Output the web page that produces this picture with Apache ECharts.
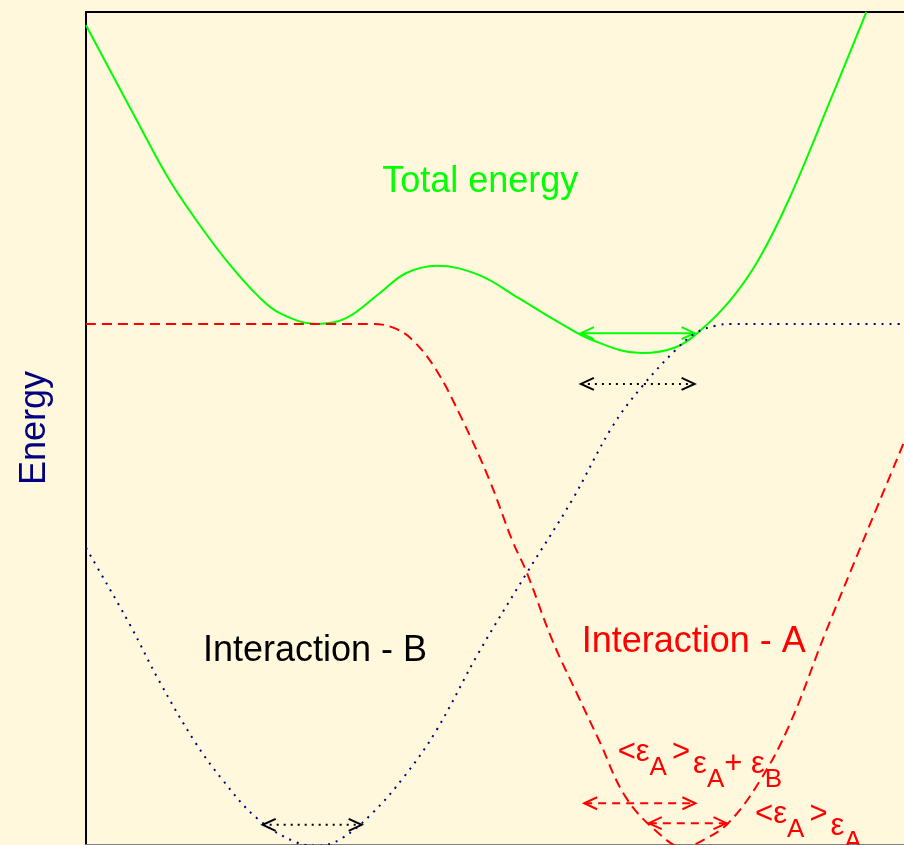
<!DOCTYPE html>
<html><head><meta charset="utf-8">
<script src="https://cdn.jsdelivr.net/npm/echarts@6/dist/echarts.min.js"></script>
<style>html,body{margin:0;padding:0;background:#fff8dc}#c{width:904px;height:845px}</style>
</head><body><div id="c"></div><script>
// Total energy curve
const totalX = [0, 0.62, 1.02, 1.39, 1.76, 2.12, 2.37, 2.82, 3.18, 3.59, 3.91, 4.29, 4.80, 5.29, 5.78, 6.18, 6.79, 7.21, 7.52, 7.88, 8.22, 8.59, 9.10, 9.54];
const totalY = [9.84, 8.70, 7.98, 7.44, 6.96, 6.57, 6.38, 6.25, 6.32, 6.62, 6.86, 6.95, 6.84, 6.56, 6.27, 6.06, 5.90, 5.97, 6.18, 6.54, 7.02, 7.74, 8.94, 10.0];
// Interaction - A (red dashed)
const aX = [0, 1.5, 3.0, 3.52, 3.77, 3.99, 4.28, 4.60, 4.93, 5.21, 5.39, 5.70, 6.02, 6.27, 6.60, 7.00, 7.30, 7.55, 7.85, 8.22, 8.59, 9.04, 9.52, 10.0];
const aY = [6.25, 6.25, 6.25, 6.25, 6.20, 6.06, 5.70, 5.10, 4.38, 3.65, 3.26, 2.45, 1.77, 1.25, 0.56, 0.13, -0.04, 0.05, 0.25, 0.73, 1.41, 2.54, 3.69, 4.83];
// Interaction - B (blue dotted)
const bX = [0, 0.17, 0.54, 0.90, 1.33, 1.67, 2.09, 2.57, 2.85, 3.13, 3.50, 3.89, 4.28, 4.80, 5.39, 5.94, 6.43, 6.79, 7.21, 7.45, 7.70, 7.89, 8.5, 9.3, 10.0];
const bY = [3.56, 3.27, 2.63, 1.95, 1.23, 0.77, 0.31, 0.02, -0.02, 0.07, 0.37, 0.81, 1.36, 2.30, 3.26, 4.13, 5.01, 5.49, 5.94, 6.14, 6.23, 6.25, 6.25, 6.25, 6.25];
// Double-headed arrows
const arrowX1 = [6.05, 6.05, 2.16, 6.09, 6.88];
const arrowX2 = [7.44, 7.44, 3.37, 7.45, 7.83];
const arrowY  = [6.14, 5.53, 0.23, 0.49, 0.25];
const arrowKind = ['green', 'dotted', 'dotted', 'red', 'red'];
// Text labels
const textStr = ['Total energy', 'Interaction - B', 'Interaction - A'];
const textX = [4.82, 2.80, 7.43];
const textY = [7.96, 2.32, 2.43];
const textColor = ['#00ff00', '#000000', '#ff0000'];
// Epsilon labels (top-left anchors)
const epsStr = ['{b|<ε}{s|A}{g|>}{e1|ε}{l2|A}{l1|+ ε}{l2|B}', '{b|<ε}{s|A}{g|>}{e1|ε}{l2|A}'];
const epsX = [6.50, 8.18];
const epsY = [1.29, 0.544];

const zip = (xs, ys) => xs.map((x, i) => [x, ys[i]]);
const FONT = 'Liberation Sans, Arial, Helvetica, sans-serif';
const kindStyle = {
  green: {stroke: '#00ff00', lineDash: null},
  dotted: {stroke: '#000000', lineDash: [2, 5]},
  red: {stroke: '#ff0000', lineDash: [8, 6]}
};
const SM = 0.38;
const tok = (size, top, left) => ({fontSize: size, color: '#ff0000', fontFamily: FONT, verticalAlign: 'top', padding: [top, 0, 0, left]});

const chart = echarts.init(document.getElementById('c'));
chart.setOption({
  animation: false,
  backgroundColor: '#fff8dc',
  grid: {left: 86, top: 12, width: 820, height: 832},
  xAxis: [
    {type: 'value', min: 0, max: 10, position: 'top',
     axisLine: {show: true, onZero: false, lineStyle: {color: '#000', width: 2}},
     axisTick: {show: false}, axisLabel: {show: false}, splitLine: {show: false}},
    {type: 'value', min: 0, max: 10, position: 'bottom',
     axisLine: {show: true, onZero: false, lineStyle: {color: '#808080', width: 1}},
     axisTick: {show: false}, axisLabel: {show: false}, splitLine: {show: false}}
  ],
  yAxis: {type: 'value', min: 0, max: 10, name: 'Energy', nameLocation: 'middle', nameGap: 33,
    nameTextStyle: {fontSize: 36, color: '#000080', fontFamily: FONT},
    axisLine: {show: true, onZero: false, lineStyle: {color: '#000', width: 2}},
    axisTick: {show: false}, axisLabel: {show: false}, splitLine: {show: false}},
  series: [
    {type: 'line', data: zip(totalX, totalY), smooth: SM, symbol: 'none',
     lineStyle: {color: '#00ff00', width: 2}},
    {type: 'line', data: zip(aX, aY), smooth: SM, symbol: 'none',
     lineStyle: {color: '#ff0000', width: 2, type: [10, 6]}},
    {type: 'line', data: zip(bX, bY), smooth: SM, symbol: 'none',
     lineStyle: {color: '#000080', width: 2, type: [2, 6]}},
    {type: 'custom', data: arrowX1.map((x, i) => [x, arrowX2[i], arrowY[i]]),
     renderItem: (params, api) => {
       const p1 = api.coord([api.value(0), api.value(2)]);
       const p2 = api.coord([api.value(1), api.value(2)]);
       const k = kindStyle[arrowKind[params.dataIndex]];
       const L = 13, W = 6;
       return {type: 'group', children: [
         {type: 'line', shape: {x1: p1[0], y1: p1[1], x2: p2[0], y2: p2[1]},
          style: {stroke: k.stroke, lineWidth: 2, lineDash: k.lineDash}},
         {type: 'polyline', shape: {points: [[p1[0] + L, p1[1] - W], [p1[0], p1[1]], [p1[0] + L, p1[1] + W]]},
          style: {stroke: k.stroke, lineWidth: 2, fill: null}},
         {type: 'polyline', shape: {points: [[p2[0] - L, p2[1] - W], [p2[0], p2[1]], [p2[0] - L, p2[1] + W]]},
          style: {stroke: k.stroke, lineWidth: 2, fill: null}}
       ]};
     }},
    {type: 'scatter', symbolSize: 0, silent: true, itemStyle: {opacity: 1, color: 'transparent'},
     data: textStr.map((t, i) => ({value: [textX[i], textY[i]], name: t,
       label: {color: textColor[i]}})),
     label: {show: true, position: 'inside', formatter: p => p.name, fontSize: 36, fontFamily: FONT,
       align: 'center', verticalAlign: 'middle', opacity: 1}},
    {type: 'scatter', symbolSize: 0, silent: true, itemStyle: {opacity: 1, color: 'transparent'},
     data: epsStr.map((t, i) => ({value: [epsX[i], epsY[i]], name: t})),
     label: {show: true, position: 'inside', formatter: p => p.name, color: '#ff0000', opacity: 1,
       align: 'left', verticalAlign: 'top',
       rich: {
         b: tok(31, 0, 0),
         g: tok(31, 0, 5),
         s: tok(26, 18, 0),
         e1: tok(31, 12, 3),
         l1: tok(31, 12, 0),
         l2: tok(26, 30, 0)
       }}}
  ]
});
</script></body></html>
